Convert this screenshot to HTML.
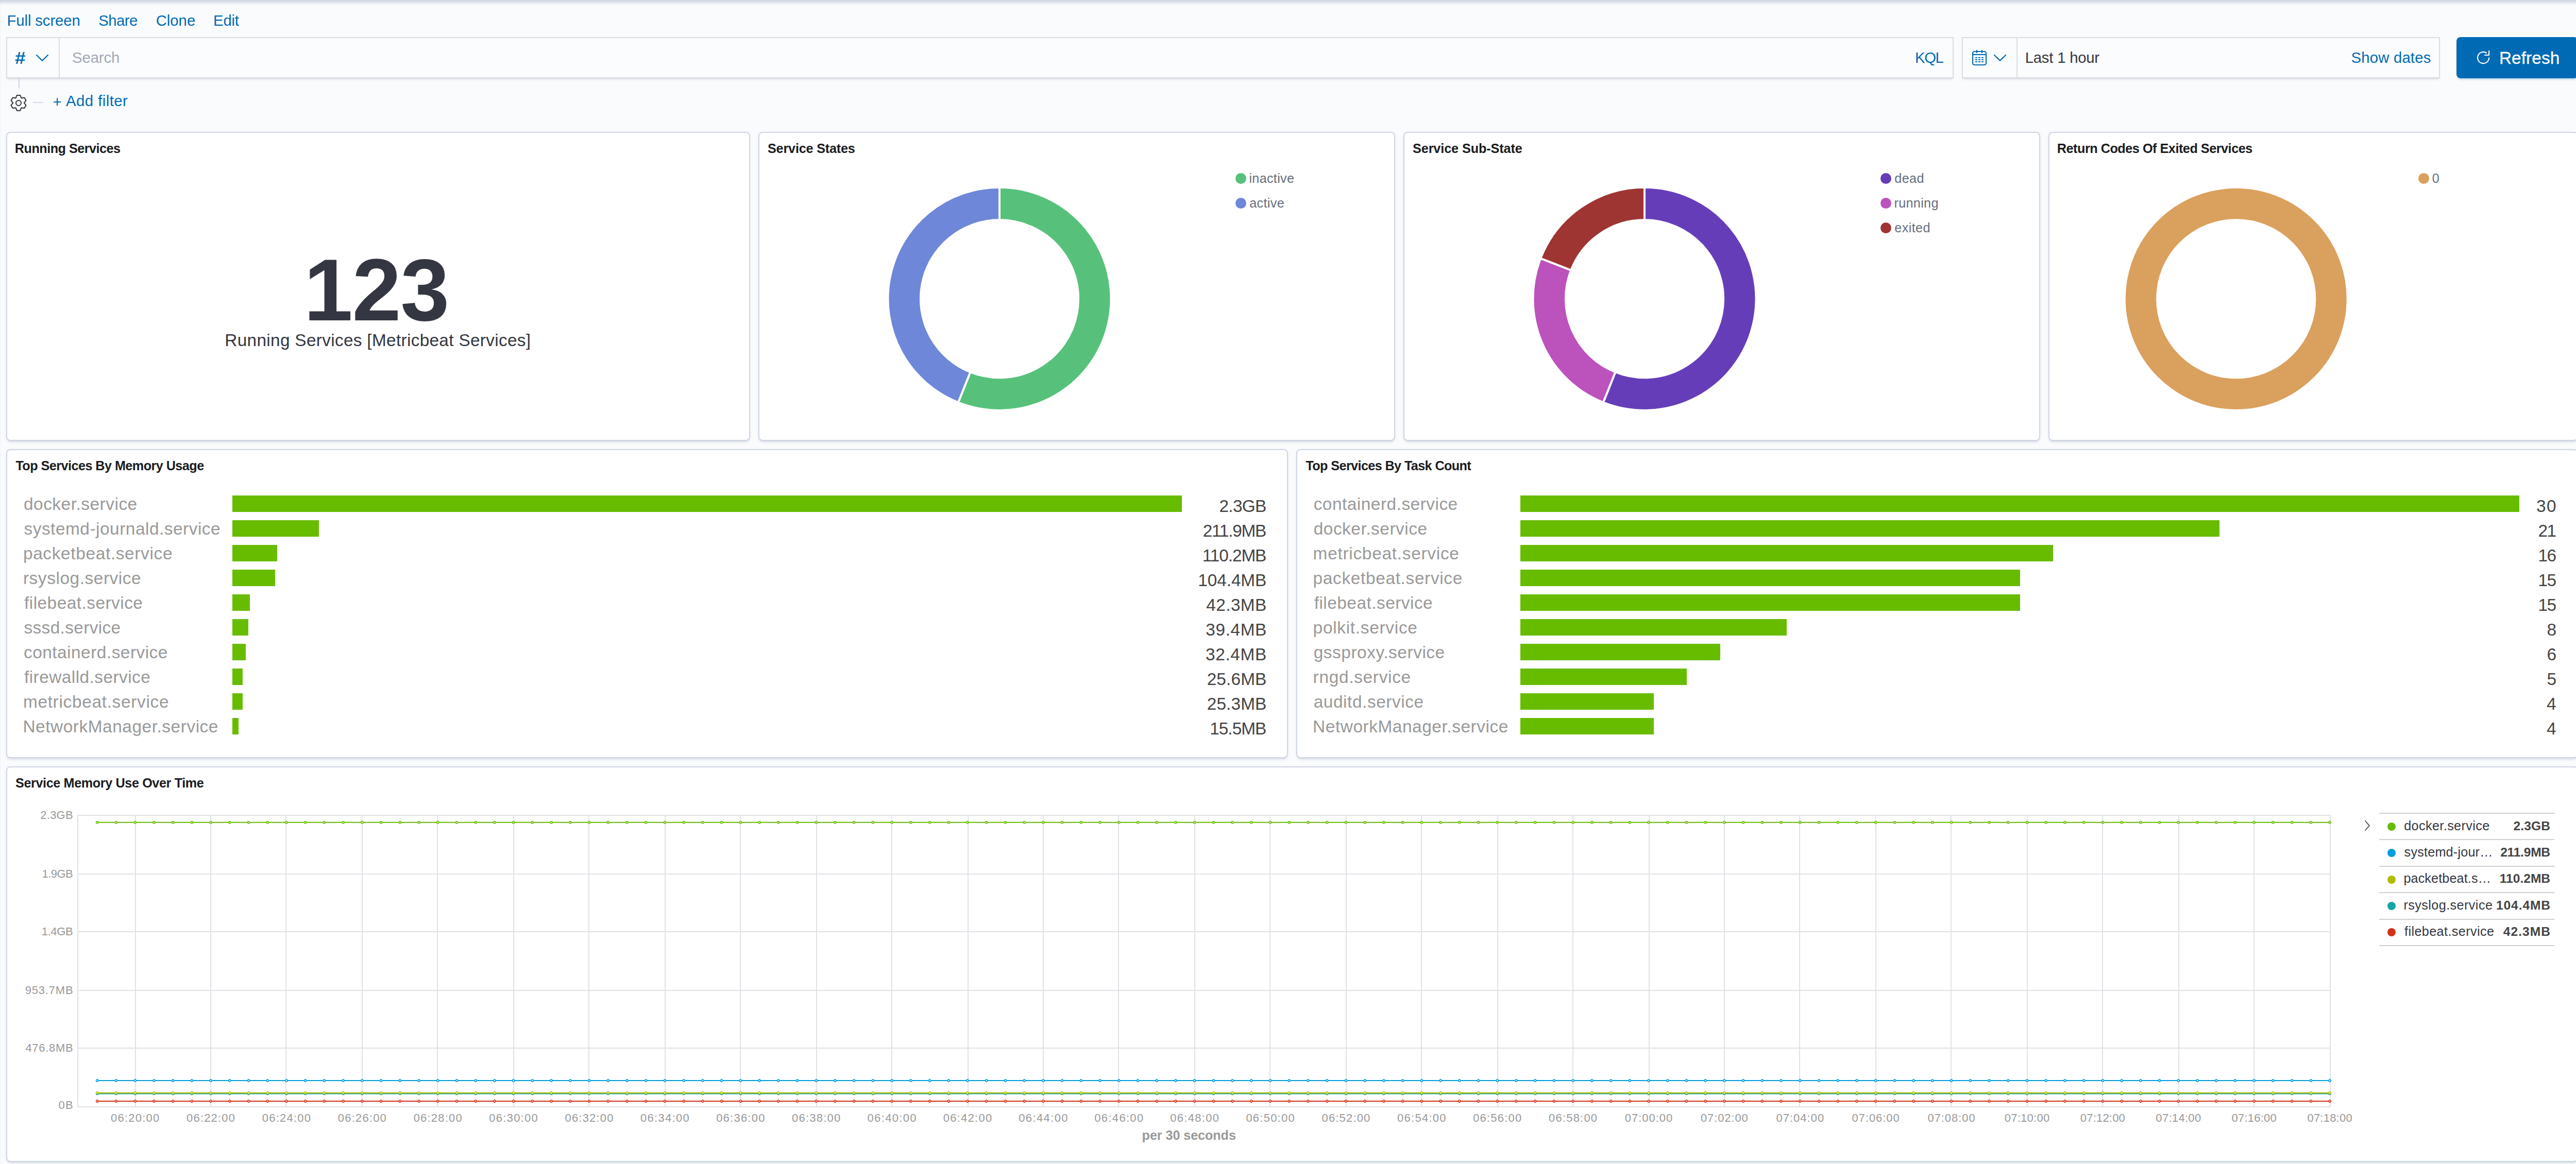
<!DOCTYPE html>
<html lang="en"><head><meta charset="utf-8"><title>Dashboard</title><style>
html,body{margin:0;padding:0}
body{width:5006px;height:2260px;overflow:hidden;background:#fafbfd;position:relative;font-family:"Liberation Sans",sans-serif}
.abs{position:absolute}
.t{position:absolute;white-space:nowrap;line-height:1;display:block}
.med{-webkit-text-stroke:0.3px}
.box{position:absolute;box-sizing:border-box;background:#fbfcfd;border:2px solid #dcdddf;box-shadow:0 2px 2px -1px rgba(152,162,179,.25),0 5px 5px -3px rgba(152,162,179,.25)}
.vline{position:absolute;width:2px;background:#dcdddf}
.panel{position:absolute;box-sizing:border-box;background:#fff;border:2px solid #ced5e3;border-radius:8px;box-shadow:0 4px 4px -2px rgba(152,162,179,.3),0 2px 10px -4px rgba(152,162,179,.3)}
.bar{position:absolute;height:32px;background:#68bc00}
.topshade{position:absolute;left:0;top:0;width:100%;height:10px;background:linear-gradient(#d2d8e4,#d3d9e5 15%,rgba(250,251,253,0))}
</style></head><body>
<div class="abs" style="left:0;top:0;width:2px;height:2260px;background:linear-gradient(90deg,#f3f5f9,#f8f9fc)"></div><div class="topshade"></div>
<div class="box" style="left:12px;top:72px;width:3780px;height:80px"></div>
<div class="vline" style="left:114px;top:74px;height:76px"></div>
<svg class="abs" style="left:68px;top:102px" width="28" height="20" viewBox="0 0 28 20"><polyline points="3,5 14,15.6 25,5" fill="none" stroke="#006bb4" stroke-width="2.2" stroke-linecap="round" stroke-linejoin="round"/></svg>
<div class="box" style="left:3808px;top:72px;width:928px;height:80px"></div>
<div class="vline" style="left:3914px;top:74px;height:76px"></div>
<svg class="abs" style="left:3827px;top:96px" width="30" height="32" viewBox="0 0 30 32" fill="none" stroke="#006bb4" stroke-width="2.1">
<rect x="2" y="4" width="26" height="26" rx="3.5"/>
<line x1="2" y1="10" x2="28" y2="10"/>
<line x1="10" y1="1" x2="10" y2="7"/><line x1="20" y1="1" x2="20" y2="7"/>
<g stroke-width="2" stroke-dasharray="4 2"><line x1="7" y1="16" x2="24" y2="16"/><line x1="7" y1="20" x2="24" y2="20"/><line x1="7" y1="24" x2="24" y2="24"/></g>
</svg>
<svg class="abs" style="left:3868px;top:102px" width="28" height="20" viewBox="0 0 28 20"><polyline points="3,5 14,15.6 25,5" fill="none" stroke="#006bb4" stroke-width="2.2" stroke-linecap="round" stroke-linejoin="round"/></svg>
<div class="abs" style="left:4768px;top:72px;width:236px;height:80px;border-radius:8px;background:#006bb4;box-shadow:0 4px 4px -2px rgba(0,107,180,.3)"></div>
<svg class="abs" style="left:4805px;top:96px" width="32" height="32" viewBox="0 0 32 32" fill="none" stroke="#fff" stroke-width="2.1" stroke-linecap="butt" stroke-linejoin="round">
<path d="M26.19 15.6A11.1 11.1 0 1 1 21.78 7.14"/><path d="M26.1 2.2V11H17.2"/></svg>
<div class="abs" style="left:36px;top:151px;width:2px;height:21px;background:#cdd4e3"></div>
<svg class="abs" style="left:16px;top:180px" width="40" height="40" viewBox="0 0 40 40" fill="none" stroke="#2f323c" stroke-width="2" stroke-linejoin="round"><polygon points="16.76,4.95 23.24,4.95 25.40,10.45 31.24,9.57 34.48,15.18 30.80,19.80 34.48,24.42 31.24,30.03 25.40,29.15 23.24,34.65 16.76,34.65 14.60,29.15 8.76,30.03 5.52,24.42 9.20,19.80 5.52,15.18 8.76,9.57 14.60,10.45"/><circle cx="20" cy="20" r="5"/></svg>
<div class="abs" style="left:64px;top:198px;width:20px;height:2px;background:#d3dae6"></div>
<div class="panel" style="left:12px;top:256px;width:1444px;height:600px"></div>
<div class="panel" style="left:1472px;top:256px;width:1236px;height:600px"></div>
<div class="panel" style="left:2724px;top:256px;width:1236px;height:600px"></div>
<div class="panel" style="left:3976px;top:256px;width:1028px;height:600px"></div>
<div class="panel" style="left:12px;top:872px;width:2488px;height:600px"></div>
<div class="panel" style="left:2516px;top:872px;width:2488px;height:600px"></div>
<div class="panel" style="left:12px;top:1488px;width:4992px;height:768px"></div>
<svg class="abs" style="left:0;top:0" width="5006" height="900" viewBox="0 0 5006 900"><path d="M1940.00 363.70A216.5 216.5 0 1 1 1859.95 781.36L1883.39 722.45A153.1 153.1 0 1 0 1940.00 427.10Z" fill="#57c17b" stroke="#fff" stroke-width="4" stroke-linejoin="miter"/><path d="M1859.95 781.36A216.5 216.5 0 0 1 1940.00 363.70L1940.00 427.10A153.1 153.1 0 0 0 1883.39 722.45Z" fill="#6f87d8" stroke="#fff" stroke-width="4" stroke-linejoin="miter"/></svg>
<svg class="abs" style="left:0;top:0" width="5006" height="900" viewBox="0 0 5006 900"><path d="M3192.00 363.70A216.5 216.5 0 1 1 3111.95 781.36L3135.39 722.45A153.1 153.1 0 1 0 3192.00 427.10Z" fill="#663db8" stroke="#fff" stroke-width="4" stroke-linejoin="miter"/><path d="M3111.95 781.36A216.5 216.5 0 0 1 2990.29 501.56L3049.36 524.59A153.1 153.1 0 0 0 3135.39 722.45Z" fill="#bc52bc" stroke="#fff" stroke-width="4" stroke-linejoin="miter"/><path d="M2990.29 501.56A216.5 216.5 0 0 1 3192.00 363.70L3192.00 427.10A153.1 153.1 0 0 0 3049.36 524.59Z" fill="#9e3533" stroke="#fff" stroke-width="4" stroke-linejoin="miter"/></svg>
<svg class="abs" style="left:0;top:0" width="5006" height="900" viewBox="0 0 5006 900"><circle cx="4340.2" cy="580.2" r="184.8" fill="none" stroke="#daa05d" stroke-width="59.4"/></svg>
<div class="abs" style="left:2397.8px;top:335.8px;width:21px;height:21px;border-radius:50%;background:#57c17b"></div>
<div class="abs" style="left:2397.8px;top:384.1px;width:21px;height:21px;border-radius:50%;background:#6f87d8"></div>
<div class="abs" style="left:3649.7px;top:335.9px;width:21px;height:21px;border-radius:50%;background:#663db8"></div>
<div class="abs" style="left:3649.7px;top:384px;width:21px;height:21px;border-radius:50%;background:#bc52bc"></div>
<div class="abs" style="left:3649.7px;top:431.9px;width:21px;height:21px;border-radius:50%;background:#9e3533"></div>
<div class="abs" style="left:4693.5px;top:335.8px;width:21px;height:21px;border-radius:50%;background:#daa05d"></div>
<div class="bar" style="left:451px;top:962px;width:1842.8px"></div>
<div class="bar" style="left:451px;top:1010px;width:168.0px"></div>
<div class="bar" style="left:451px;top:1058px;width:87.4px"></div>
<div class="bar" style="left:451px;top:1106px;width:82.8px"></div>
<div class="bar" style="left:451px;top:1154px;width:33.5px"></div>
<div class="bar" style="left:451px;top:1202px;width:31.2px"></div>
<div class="bar" style="left:451px;top:1250px;width:25.7px"></div>
<div class="bar" style="left:451px;top:1298px;width:20.3px"></div>
<div class="bar" style="left:451px;top:1346px;width:20.1px"></div>
<div class="bar" style="left:451px;top:1394px;width:12.3px"></div>
<div class="bar" style="left:2951px;top:962px;width:1939.2px"></div>
<div class="bar" style="left:2951px;top:1010px;width:1357.4px"></div>
<div class="bar" style="left:2951px;top:1058px;width:1034.2px"></div>
<div class="bar" style="left:2951px;top:1106px;width:969.6px"></div>
<div class="bar" style="left:2951px;top:1154px;width:969.6px"></div>
<div class="bar" style="left:2951px;top:1202px;width:517.1px"></div>
<div class="bar" style="left:2951px;top:1250px;width:387.8px"></div>
<div class="bar" style="left:2951px;top:1298px;width:323.2px"></div>
<div class="bar" style="left:2951px;top:1346px;width:258.6px"></div>
<div class="bar" style="left:2951px;top:1394px;width:258.6px"></div>
<svg class="abs" style="left:0;top:1488px" width="5006" height="768" viewBox="0 1488 5006 768"><line x1="150" y1="1583.0" x2="4524" y2="1583.0" stroke="#e0e2e7" stroke-width="2"/><line x1="150" y1="1697.0" x2="4524" y2="1697.0" stroke="#e0e2e7" stroke-width="2"/><line x1="150" y1="1809.0" x2="4524" y2="1809.0" stroke="#e0e2e7" stroke-width="2"/><line x1="150" y1="1923.0" x2="4524" y2="1923.0" stroke="#e0e2e7" stroke-width="2"/><line x1="150" y1="2035.0" x2="4524" y2="2035.0" stroke="#e0e2e7" stroke-width="2"/><line x1="150" y1="2149.0" x2="4524" y2="2149.0" stroke="#e0e2e7" stroke-width="2"/><line x1="151" y1="1583.0" x2="151" y2="2149.0" stroke="#e0e2e7" stroke-width="2"/><line x1="263.0" y1="1583.0" x2="263.0" y2="2149.0" stroke="#e0e2e7" stroke-width="2"/><line x1="409.0" y1="1583.0" x2="409.0" y2="2149.0" stroke="#e0e2e7" stroke-width="2"/><line x1="555.0" y1="1583.0" x2="555.0" y2="2149.0" stroke="#e0e2e7" stroke-width="2"/><line x1="703.0" y1="1583.0" x2="703.0" y2="2149.0" stroke="#e0e2e7" stroke-width="2"/><line x1="849.0" y1="1583.0" x2="849.0" y2="2149.0" stroke="#e0e2e7" stroke-width="2"/><line x1="997.0" y1="1583.0" x2="997.0" y2="2149.0" stroke="#e0e2e7" stroke-width="2"/><line x1="1143.0" y1="1583.0" x2="1143.0" y2="2149.0" stroke="#e0e2e7" stroke-width="2"/><line x1="1291.0" y1="1583.0" x2="1291.0" y2="2149.0" stroke="#e0e2e7" stroke-width="2"/><line x1="1437.0" y1="1583.0" x2="1437.0" y2="2149.0" stroke="#e0e2e7" stroke-width="2"/><line x1="1585.0" y1="1583.0" x2="1585.0" y2="2149.0" stroke="#e0e2e7" stroke-width="2"/><line x1="1731.0" y1="1583.0" x2="1731.0" y2="2149.0" stroke="#e0e2e7" stroke-width="2"/><line x1="1879.0" y1="1583.0" x2="1879.0" y2="2149.0" stroke="#e0e2e7" stroke-width="2"/><line x1="2025.0" y1="1583.0" x2="2025.0" y2="2149.0" stroke="#e0e2e7" stroke-width="2"/><line x1="2171.0" y1="1583.0" x2="2171.0" y2="2149.0" stroke="#e0e2e7" stroke-width="2"/><line x1="2319.0" y1="1583.0" x2="2319.0" y2="2149.0" stroke="#e0e2e7" stroke-width="2"/><line x1="2465.0" y1="1583.0" x2="2465.0" y2="2149.0" stroke="#e0e2e7" stroke-width="2"/><line x1="2613.0" y1="1583.0" x2="2613.0" y2="2149.0" stroke="#e0e2e7" stroke-width="2"/><line x1="2759.0" y1="1583.0" x2="2759.0" y2="2149.0" stroke="#e0e2e7" stroke-width="2"/><line x1="2907.0" y1="1583.0" x2="2907.0" y2="2149.0" stroke="#e0e2e7" stroke-width="2"/><line x1="3053.0" y1="1583.0" x2="3053.0" y2="2149.0" stroke="#e0e2e7" stroke-width="2"/><line x1="3201.0" y1="1583.0" x2="3201.0" y2="2149.0" stroke="#e0e2e7" stroke-width="2"/><line x1="3347.0" y1="1583.0" x2="3347.0" y2="2149.0" stroke="#e0e2e7" stroke-width="2"/><line x1="3493.0" y1="1583.0" x2="3493.0" y2="2149.0" stroke="#e0e2e7" stroke-width="2"/><line x1="3641.0" y1="1583.0" x2="3641.0" y2="2149.0" stroke="#e0e2e7" stroke-width="2"/><line x1="3787.0" y1="1583.0" x2="3787.0" y2="2149.0" stroke="#e0e2e7" stroke-width="2"/><line x1="3935.0" y1="1583.0" x2="3935.0" y2="2149.0" stroke="#e0e2e7" stroke-width="2"/><line x1="4081.0" y1="1583.0" x2="4081.0" y2="2149.0" stroke="#e0e2e7" stroke-width="2"/><line x1="4229.0" y1="1583.0" x2="4229.0" y2="2149.0" stroke="#e0e2e7" stroke-width="2"/><line x1="4375.0" y1="1583.0" x2="4375.0" y2="2149.0" stroke="#e0e2e7" stroke-width="2"/><line x1="4523.0" y1="1583.0" x2="4523.0" y2="2149.0" stroke="#e0e2e7" stroke-width="2"/><marker id="m0" markerWidth="8" markerHeight="8" refX="4" refY="4" markerUnits="userSpaceOnUse"><circle cx="4" cy="4" r="2.05" fill="#fff" stroke="#68bc00" stroke-width="1.8"/></marker><polyline points="188.75,1596.7 225.48,1596.7 262.20,1596.7 298.92,1596.7 335.65,1596.7 372.37,1596.7 409.09,1596.7 445.82,1596.7 482.54,1596.7 519.26,1596.7 555.99,1596.7 592.71,1596.7 629.43,1596.7 666.16,1596.7 702.88,1596.7 739.60,1596.7 776.33,1596.7 813.05,1596.7 849.77,1596.7 886.50,1596.7 923.22,1596.7 959.94,1596.7 996.67,1596.7 1033.39,1596.7 1070.11,1596.7 1106.84,1596.7 1143.56,1596.7 1180.28,1596.7 1217.01,1596.7 1253.73,1596.7 1290.45,1596.7 1327.18,1596.7 1363.90,1596.7 1400.62,1596.7 1437.34,1596.7 1474.07,1596.7 1510.79,1596.7 1547.51,1596.7 1584.24,1596.7 1620.96,1596.7 1657.68,1596.7 1694.41,1596.7 1731.13,1596.7 1767.85,1596.7 1804.58,1596.7 1841.30,1596.7 1878.02,1596.7 1914.75,1596.7 1951.47,1596.7 1988.19,1596.7 2024.92,1596.7 2061.64,1596.7 2098.36,1596.7 2135.09,1596.7 2171.81,1596.7 2208.53,1596.7 2245.26,1596.7 2281.98,1596.7 2318.70,1596.7 2355.43,1596.7 2392.15,1596.7 2428.87,1596.7 2465.60,1596.7 2502.32,1596.7 2539.04,1596.7 2575.77,1596.7 2612.49,1596.7 2649.21,1596.7 2685.94,1596.7 2722.66,1596.7 2759.38,1596.7 2796.11,1596.7 2832.83,1596.7 2869.55,1596.7 2906.28,1596.7 2943.00,1596.7 2979.72,1596.7 3016.45,1596.7 3053.17,1596.7 3089.89,1596.7 3126.62,1596.7 3163.34,1596.7 3200.06,1596.7 3236.79,1596.7 3273.51,1596.7 3310.23,1596.7 3346.96,1596.7 3383.68,1596.7 3420.40,1596.7 3457.13,1596.7 3493.85,1596.7 3530.57,1596.7 3567.29,1596.7 3604.02,1596.7 3640.74,1596.7 3677.46,1596.7 3714.19,1596.7 3750.91,1596.7 3787.63,1596.7 3824.36,1596.7 3861.08,1596.7 3897.80,1596.7 3934.53,1596.7 3971.25,1596.7 4007.97,1596.7 4044.70,1596.7 4081.42,1596.7 4118.14,1596.7 4154.87,1596.7 4191.59,1596.7 4228.31,1596.7 4265.04,1596.7 4301.76,1596.7 4338.48,1596.7 4375.21,1596.7 4411.93,1596.7 4448.65,1596.7 4485.38,1596.7 4522.10,1596.7" fill="none" stroke="#68bc00" stroke-width="2" marker-start="url(#m0)" marker-mid="url(#m0)" marker-end="url(#m0)"/><marker id="m1" markerWidth="8" markerHeight="8" refX="4" refY="4" markerUnits="userSpaceOnUse"><circle cx="4" cy="4" r="2.05" fill="#fff" stroke="#009ce0" stroke-width="1.8"/></marker><polyline points="188.75,2098.0 225.48,2098.0 262.20,2098.0 298.92,2098.0 335.65,2098.0 372.37,2098.0 409.09,2098.0 445.82,2098.0 482.54,2098.0 519.26,2098.0 555.99,2098.0 592.71,2098.0 629.43,2098.0 666.16,2098.0 702.88,2098.0 739.60,2098.0 776.33,2098.0 813.05,2098.0 849.77,2098.0 886.50,2098.0 923.22,2098.0 959.94,2098.0 996.67,2098.0 1033.39,2098.0 1070.11,2098.0 1106.84,2098.0 1143.56,2098.0 1180.28,2098.0 1217.01,2098.0 1253.73,2098.0 1290.45,2098.0 1327.18,2098.0 1363.90,2098.0 1400.62,2098.0 1437.34,2098.0 1474.07,2098.0 1510.79,2098.0 1547.51,2098.0 1584.24,2098.0 1620.96,2098.0 1657.68,2098.0 1694.41,2098.0 1731.13,2098.0 1767.85,2098.0 1804.58,2098.0 1841.30,2098.0 1878.02,2098.0 1914.75,2098.0 1951.47,2098.0 1988.19,2098.0 2024.92,2098.0 2061.64,2098.0 2098.36,2098.0 2135.09,2098.0 2171.81,2098.0 2208.53,2098.0 2245.26,2098.0 2281.98,2098.0 2318.70,2098.0 2355.43,2098.0 2392.15,2098.0 2428.87,2098.0 2465.60,2098.0 2502.32,2098.0 2539.04,2098.0 2575.77,2098.0 2612.49,2098.0 2649.21,2098.0 2685.94,2098.0 2722.66,2098.0 2759.38,2098.0 2796.11,2098.0 2832.83,2098.0 2869.55,2098.0 2906.28,2098.0 2943.00,2098.0 2979.72,2098.0 3016.45,2098.0 3053.17,2098.0 3089.89,2098.0 3126.62,2098.0 3163.34,2098.0 3200.06,2098.0 3236.79,2098.0 3273.51,2098.0 3310.23,2098.0 3346.96,2098.0 3383.68,2098.0 3420.40,2098.0 3457.13,2098.0 3493.85,2098.0 3530.57,2098.0 3567.29,2098.0 3604.02,2098.0 3640.74,2098.0 3677.46,2098.0 3714.19,2098.0 3750.91,2098.0 3787.63,2098.0 3824.36,2098.0 3861.08,2098.0 3897.80,2098.0 3934.53,2098.0 3971.25,2098.0 4007.97,2098.0 4044.70,2098.0 4081.42,2098.0 4118.14,2098.0 4154.87,2098.0 4191.59,2098.0 4228.31,2098.0 4265.04,2098.0 4301.76,2098.0 4338.48,2098.0 4375.21,2098.0 4411.93,2098.0 4448.65,2098.0 4485.38,2098.0 4522.10,2098.0" fill="none" stroke="#009ce0" stroke-width="2" marker-start="url(#m1)" marker-mid="url(#m1)" marker-end="url(#m1)"/><marker id="m2" markerWidth="8" markerHeight="8" refX="4" refY="4" markerUnits="userSpaceOnUse"><circle cx="4" cy="4" r="2.05" fill="#fff" stroke="#16a5a5" stroke-width="1.8"/></marker><polyline points="188.75,2123.4 225.48,2123.4 262.20,2123.4 298.92,2123.4 335.65,2123.4 372.37,2123.4 409.09,2123.4 445.82,2123.4 482.54,2123.4 519.26,2123.4 555.99,2123.4 592.71,2123.4 629.43,2123.4 666.16,2123.4 702.88,2123.4 739.60,2123.4 776.33,2123.4 813.05,2123.4 849.77,2123.4 886.50,2123.4 923.22,2123.4 959.94,2123.4 996.67,2123.4 1033.39,2123.4 1070.11,2123.4 1106.84,2123.4 1143.56,2123.4 1180.28,2123.4 1217.01,2123.4 1253.73,2123.4 1290.45,2123.4 1327.18,2123.4 1363.90,2123.4 1400.62,2123.4 1437.34,2123.4 1474.07,2123.4 1510.79,2123.4 1547.51,2123.4 1584.24,2123.4 1620.96,2123.4 1657.68,2123.4 1694.41,2123.4 1731.13,2123.4 1767.85,2123.4 1804.58,2123.4 1841.30,2123.4 1878.02,2123.4 1914.75,2123.4 1951.47,2123.4 1988.19,2123.4 2024.92,2123.4 2061.64,2123.4 2098.36,2123.4 2135.09,2123.4 2171.81,2123.4 2208.53,2123.4 2245.26,2123.4 2281.98,2123.4 2318.70,2123.4 2355.43,2123.4 2392.15,2123.4 2428.87,2123.4 2465.60,2123.4 2502.32,2123.4 2539.04,2123.4 2575.77,2123.4 2612.49,2123.4 2649.21,2123.4 2685.94,2123.4 2722.66,2123.4 2759.38,2123.4 2796.11,2123.4 2832.83,2123.4 2869.55,2123.4 2906.28,2123.4 2943.00,2123.4 2979.72,2123.4 3016.45,2123.4 3053.17,2123.4 3089.89,2123.4 3126.62,2123.4 3163.34,2123.4 3200.06,2123.4 3236.79,2123.4 3273.51,2123.4 3310.23,2123.4 3346.96,2123.4 3383.68,2123.4 3420.40,2123.4 3457.13,2123.4 3493.85,2123.4 3530.57,2123.4 3567.29,2123.4 3604.02,2123.4 3640.74,2123.4 3677.46,2123.4 3714.19,2123.4 3750.91,2123.4 3787.63,2123.4 3824.36,2123.4 3861.08,2123.4 3897.80,2123.4 3934.53,2123.4 3971.25,2123.4 4007.97,2123.4 4044.70,2123.4 4081.42,2123.4 4118.14,2123.4 4154.87,2123.4 4191.59,2123.4 4228.31,2123.4 4265.04,2123.4 4301.76,2123.4 4338.48,2123.4 4375.21,2123.4 4411.93,2123.4 4448.65,2123.4 4485.38,2123.4 4522.10,2123.4" fill="none" stroke="#16a5a5" stroke-width="2" marker-start="url(#m2)" marker-mid="url(#m2)" marker-end="url(#m2)"/><marker id="m3" markerWidth="8" markerHeight="8" refX="4" refY="4" markerUnits="userSpaceOnUse"><circle cx="4" cy="4" r="2.05" fill="#fff" stroke="#b0bc00" stroke-width="1.8"/></marker><polyline points="188.75,2122.0 225.48,2122.0 262.20,2122.0 298.92,2122.0 335.65,2122.0 372.37,2122.0 409.09,2122.0 445.82,2122.0 482.54,2122.0 519.26,2122.0 555.99,2122.0 592.71,2122.0 629.43,2122.0 666.16,2122.0 702.88,2122.0 739.60,2122.0 776.33,2122.0 813.05,2122.0 849.77,2122.0 886.50,2122.0 923.22,2122.0 959.94,2122.0 996.67,2122.0 1033.39,2122.0 1070.11,2122.0 1106.84,2122.0 1143.56,2122.0 1180.28,2122.0 1217.01,2122.0 1253.73,2122.0 1290.45,2122.0 1327.18,2122.0 1363.90,2122.0 1400.62,2122.0 1437.34,2122.0 1474.07,2122.0 1510.79,2122.0 1547.51,2122.0 1584.24,2122.0 1620.96,2122.0 1657.68,2122.0 1694.41,2122.0 1731.13,2122.0 1767.85,2122.0 1804.58,2122.0 1841.30,2122.0 1878.02,2122.0 1914.75,2122.0 1951.47,2122.0 1988.19,2122.0 2024.92,2122.0 2061.64,2122.0 2098.36,2122.0 2135.09,2122.0 2171.81,2122.0 2208.53,2122.0 2245.26,2122.0 2281.98,2122.0 2318.70,2122.0 2355.43,2122.0 2392.15,2122.0 2428.87,2122.0 2465.60,2122.0 2502.32,2122.0 2539.04,2122.0 2575.77,2122.0 2612.49,2122.0 2649.21,2122.0 2685.94,2122.0 2722.66,2122.0 2759.38,2122.0 2796.11,2122.0 2832.83,2122.0 2869.55,2122.0 2906.28,2122.0 2943.00,2122.0 2979.72,2122.0 3016.45,2122.0 3053.17,2122.0 3089.89,2122.0 3126.62,2122.0 3163.34,2122.0 3200.06,2122.0 3236.79,2122.0 3273.51,2122.0 3310.23,2122.0 3346.96,2122.0 3383.68,2122.0 3420.40,2122.0 3457.13,2122.0 3493.85,2122.0 3530.57,2122.0 3567.29,2122.0 3604.02,2122.0 3640.74,2122.0 3677.46,2122.0 3714.19,2122.0 3750.91,2122.0 3787.63,2122.0 3824.36,2122.0 3861.08,2122.0 3897.80,2122.0 3934.53,2122.0 3971.25,2122.0 4007.97,2122.0 4044.70,2122.0 4081.42,2122.0 4118.14,2122.0 4154.87,2122.0 4191.59,2122.0 4228.31,2122.0 4265.04,2122.0 4301.76,2122.0 4338.48,2122.0 4375.21,2122.0 4411.93,2122.0 4448.65,2122.0 4485.38,2122.0 4522.10,2122.0" fill="none" stroke="#b0bc00" stroke-width="2" marker-start="url(#m3)" marker-mid="url(#m3)" marker-end="url(#m3)"/><marker id="m4" markerWidth="8" markerHeight="8" refX="4" refY="4" markerUnits="userSpaceOnUse"><circle cx="4" cy="4" r="2.05" fill="#fff" stroke="#d33115" stroke-width="1.8"/></marker><polyline points="188.75,2138.0 225.48,2138.0 262.20,2138.0 298.92,2138.0 335.65,2138.0 372.37,2138.0 409.09,2138.0 445.82,2138.0 482.54,2138.0 519.26,2138.0 555.99,2138.0 592.71,2138.0 629.43,2138.0 666.16,2138.0 702.88,2138.0 739.60,2138.0 776.33,2138.0 813.05,2138.0 849.77,2138.0 886.50,2138.0 923.22,2138.0 959.94,2138.0 996.67,2138.0 1033.39,2138.0 1070.11,2138.0 1106.84,2138.0 1143.56,2138.0 1180.28,2138.0 1217.01,2138.0 1253.73,2138.0 1290.45,2138.0 1327.18,2138.0 1363.90,2138.0 1400.62,2138.0 1437.34,2138.0 1474.07,2138.0 1510.79,2138.0 1547.51,2138.0 1584.24,2138.0 1620.96,2138.0 1657.68,2138.0 1694.41,2138.0 1731.13,2138.0 1767.85,2138.0 1804.58,2138.0 1841.30,2138.0 1878.02,2138.0 1914.75,2138.0 1951.47,2138.0 1988.19,2138.0 2024.92,2138.0 2061.64,2138.0 2098.36,2138.0 2135.09,2138.0 2171.81,2138.0 2208.53,2138.0 2245.26,2138.0 2281.98,2138.0 2318.70,2138.0 2355.43,2138.0 2392.15,2138.0 2428.87,2138.0 2465.60,2138.0 2502.32,2138.0 2539.04,2138.0 2575.77,2138.0 2612.49,2138.0 2649.21,2138.0 2685.94,2138.0 2722.66,2138.0 2759.38,2138.0 2796.11,2138.0 2832.83,2138.0 2869.55,2138.0 2906.28,2138.0 2943.00,2138.0 2979.72,2138.0 3016.45,2138.0 3053.17,2138.0 3089.89,2138.0 3126.62,2138.0 3163.34,2138.0 3200.06,2138.0 3236.79,2138.0 3273.51,2138.0 3310.23,2138.0 3346.96,2138.0 3383.68,2138.0 3420.40,2138.0 3457.13,2138.0 3493.85,2138.0 3530.57,2138.0 3567.29,2138.0 3604.02,2138.0 3640.74,2138.0 3677.46,2138.0 3714.19,2138.0 3750.91,2138.0 3787.63,2138.0 3824.36,2138.0 3861.08,2138.0 3897.80,2138.0 3934.53,2138.0 3971.25,2138.0 4007.97,2138.0 4044.70,2138.0 4081.42,2138.0 4118.14,2138.0 4154.87,2138.0 4191.59,2138.0 4228.31,2138.0 4265.04,2138.0 4301.76,2138.0 4338.48,2138.0 4375.21,2138.0 4411.93,2138.0 4448.65,2138.0 4485.38,2138.0 4522.10,2138.0" fill="none" stroke="#d33115" stroke-width="2" marker-start="url(#m4)" marker-mid="url(#m4)" marker-end="url(#m4)"/></svg>
<svg class="abs" style="left:4586px;top:1590px" width="18" height="26" viewBox="0 0 18 26"><polyline points="5,4 13,13 5,22" fill="none" stroke="#444" stroke-width="1.8" stroke-linecap="round" stroke-linejoin="round"/></svg>
<div class="abs" style="left:4618px;top:1578.0px;width:340px;height:2px;background:#cfcfcf"></div>
<div class="abs" style="left:4618px;top:1629.4px;width:340px;height:2px;background:#cfcfcf"></div>
<div class="abs" style="left:4618px;top:1680.8px;width:340px;height:2px;background:#cfcfcf"></div>
<div class="abs" style="left:4618px;top:1732.2px;width:340px;height:2px;background:#cfcfcf"></div>
<div class="abs" style="left:4618px;top:1783.6px;width:340px;height:2px;background:#cfcfcf"></div>
<div class="abs" style="left:4618px;top:1835.0px;width:340px;height:2px;background:#cfcfcf"></div>
<div class="abs" style="left:4634px;top:1596.8px;width:16px;height:16px;border-radius:50%;background:#68bc00"></div>
<div class="abs" style="left:4634px;top:1648.2px;width:16px;height:16px;border-radius:50%;background:#009ce0"></div>
<div class="abs" style="left:4634px;top:1699.6px;width:16px;height:16px;border-radius:50%;background:#b0bc00"></div>
<div class="abs" style="left:4634px;top:1751.0px;width:16px;height:16px;border-radius:50%;background:#16a5a5"></div>
<div class="abs" style="left:4634px;top:1802.4px;width:16px;height:16px;border-radius:50%;background:#d33115"></div>
<span class="t" style="left:13.51px;top:25px;font-size:29.3px;color:#006bb4;letter-spacing:-0.106px;">Full screen</span>
<span class="t" style="left:191.28px;top:25px;font-size:29.3px;color:#006bb4;letter-spacing:-0.521px;">Share</span>
<span class="t" style="left:302.63px;top:25px;font-size:29.3px;color:#006bb4;">Clone</span>
<span class="t" style="left:414.11px;top:25px;font-size:29.3px;color:#006bb4;letter-spacing:-0.200px;">Edit</span>
<span class="t" style="left:29.48px;top:96px;font-size:33px;color:#006bb4;font-weight:700;transform:scaleX(1.12);transform-origin:0 0;">#</span>
<span class="t" style="left:140.08px;top:97px;font-size:29.3px;color:#a2a9b5;letter-spacing:-0.135px;">Search</span>
<span class="t" style="left:3717.11px;top:97px;font-size:29.3px;color:#006bb4;letter-spacing:-1.465px;">KQL</span>
<span class="t" style="left:3930.71px;top:97px;font-size:29.3px;color:#343741;letter-spacing:-0.217px;">Last 1 hour</span>
<span class="t" style="left:4563.58px;top:97px;font-size:29.3px;color:#006bb4;letter-spacing:0.180px;">Show dates</span>
<span class="t med" style="left:4850.89px;top:96px;font-size:33.4px;color:#fff;letter-spacing:0.089px;">Refresh</span>
<span class="t" style="left:102.53px;top:183px;font-size:29.3px;color:#006bb4;">+</span>
<span class="t" style="left:128.10px;top:181px;font-size:29.3px;color:#006bb4;letter-spacing:0.457px;">Add filter</span>
<span class="t" style="left:28.82px;top:276px;font-size:25.2px;color:#1a1c21;font-weight:700;letter-spacing:-0.504px;">Running Services</span>
<span class="t" style="left:1490.01px;top:276px;font-size:25.2px;color:#1a1c21;font-weight:700;letter-spacing:-0.185px;">Service States</span>
<span class="t" style="left:2742.01px;top:276px;font-size:25.2px;color:#1a1c21;font-weight:700;letter-spacing:-0.085px;">Service Sub-State</span>
<span class="t" style="left:3992.82px;top:276px;font-size:25.2px;color:#1a1c21;font-weight:700;letter-spacing:-0.464px;">Return Codes Of Exited Services</span>
<span class="t" style="left:30.40px;top:892px;font-size:25.2px;color:#1a1c21;font-weight:700;letter-spacing:-0.539px;">Top Services By Memory Usage</span>
<span class="t" style="left:2534.40px;top:892px;font-size:25.2px;color:#1a1c21;font-weight:700;letter-spacing:-0.601px;">Top Services By Task Count</span>
<span class="t" style="left:30.01px;top:1508px;font-size:25.2px;color:#1a1c21;font-weight:700;letter-spacing:-0.382px;">Service Memory Use Over Time</span>
<span class="t" style="left:589.81px;top:477px;font-size:171px;color:#343741;font-weight:700;letter-spacing:-1.430px;">123</span>
<span class="t" style="left:436.29px;top:644px;font-size:33.4px;color:#343741;letter-spacing:0.300px;">Running Services [Metricbeat Services]</span>
<span class="t" style="left:2424.42px;top:334px;font-size:25.2px;color:#666e7d;letter-spacing:0.308px;">inactive</span>
<span class="t" style="left:2425.21px;top:382px;font-size:25.2px;color:#666e7d;letter-spacing:0.336px;">active</span>
<span class="t" style="left:3677.21px;top:334px;font-size:25.2px;color:#666e7d;letter-spacing:0.414px;">dead</span>
<span class="t" style="left:3676.42px;top:382px;font-size:25.2px;color:#666e7d;letter-spacing:0.337px;">running</span>
<span class="t" style="left:3677.21px;top:430px;font-size:25.2px;color:#666e7d;letter-spacing:0.431px;">exited</span>
<span class="t" style="left:4720.71px;top:334px;font-size:25.2px;color:#666e7d;">0</span>
<span class="t" style="left:45.96px;top:962px;font-size:33.4px;color:#999999;letter-spacing:0.524px;">docker.service</span>
<span class="t" style="left:2366.42px;top:966px;font-size:33.4px;color:#444444;letter-spacing:-0.676px;">2.3GB</span>
<span class="t" style="left:46.48px;top:1010px;font-size:33.4px;color:#999999;letter-spacing:0.517px;">systemd-journald.service</span>
<span class="t" style="left:2334.64px;top:1014px;font-size:33.4px;color:#444444;letter-spacing:-1.240px;">211.9MB</span>
<span class="t" style="left:44.91px;top:1058px;font-size:33.4px;color:#999999;letter-spacing:0.656px;">packetbeat.service</span>
<span class="t" style="left:2333.87px;top:1062px;font-size:33.4px;color:#444444;letter-spacing:-1.111px;">110.2MB</span>
<span class="t" style="left:44.91px;top:1106px;font-size:33.4px;color:#999999;letter-spacing:0.570px;">rsyslog.service</span>
<span class="t" style="left:2325.32px;top:1110px;font-size:33.4px;color:#444444;letter-spacing:-0.100px;">104.4MB</span>
<span class="t" style="left:47.00px;top:1154px;font-size:33.4px;color:#999999;letter-spacing:0.479px;">filebeat.service</span>
<span class="t" style="left:2341.26px;top:1158px;font-size:33.4px;color:#444444;letter-spacing:0.407px;">42.3MB</span>
<span class="t" style="left:46.48px;top:1202px;font-size:33.4px;color:#999999;letter-spacing:0.366px;">sssd.service</span>
<span class="t" style="left:2340.36px;top:1206px;font-size:33.4px;color:#444444;letter-spacing:0.587px;">39.4MB</span>
<span class="t" style="left:45.96px;top:1250px;font-size:33.4px;color:#999999;letter-spacing:0.497px;">containerd.service</span>
<span class="t" style="left:2339.88px;top:1254px;font-size:33.4px;color:#444444;letter-spacing:0.684px;">32.4MB</span>
<span class="t" style="left:47.00px;top:1298px;font-size:33.4px;color:#999999;letter-spacing:0.454px;">firewalld.service</span>
<span class="t" style="left:2342.67px;top:1302px;font-size:33.4px;color:#444444;letter-spacing:0.126px;">25.6MB</span>
<span class="t" style="left:44.91px;top:1346px;font-size:33.4px;color:#999999;letter-spacing:0.685px;">metricbeat.service</span>
<span class="t" style="left:2342.79px;top:1350px;font-size:33.4px;color:#444444;letter-spacing:0.101px;">25.3MB</span>
<span class="t" style="left:44.39px;top:1394px;font-size:33.4px;color:#999999;letter-spacing:0.553px;">NetworkManager.service</span>
<span class="t" style="left:2348.18px;top:1398px;font-size:33.4px;color:#444444;letter-spacing:-0.976px;">15.5MB</span>
<span class="t" style="left:2549.66px;top:962px;font-size:33.4px;color:#999999;letter-spacing:0.503px;">containerd.service</span>
<span class="t" style="left:4922.89px;top:966px;font-size:33.4px;color:#444444;letter-spacing:1.490px;">30</span>
<span class="t" style="left:2549.66px;top:1010px;font-size:33.4px;color:#999999;letter-spacing:0.540px;">docker.service</span>
<span class="t" style="left:4926.57px;top:1014px;font-size:33.4px;color:#444444;letter-spacing:-1.670px;">21</span>
<span class="t" style="left:2548.61px;top:1058px;font-size:33.4px;color:#999999;letter-spacing:0.726px;">metricbeat.service</span>
<span class="t" style="left:4926.57px;top:1062px;font-size:33.4px;color:#444444;letter-spacing:-1.670px;">16</span>
<span class="t" style="left:2548.61px;top:1106px;font-size:33.4px;color:#999999;letter-spacing:0.662px;">packetbeat.service</span>
<span class="t" style="left:4926.57px;top:1110px;font-size:33.4px;color:#444444;letter-spacing:-1.670px;">15</span>
<span class="t" style="left:2550.70px;top:1154px;font-size:33.4px;color:#999999;letter-spacing:0.485px;">filebeat.service</span>
<span class="t" style="left:4926.57px;top:1158px;font-size:33.4px;color:#444444;letter-spacing:-1.670px;">15</span>
<span class="t" style="left:2548.61px;top:1202px;font-size:33.4px;color:#999999;letter-spacing:0.715px;">polkit.service</span>
<span class="t" style="left:4943.48px;top:1206px;font-size:33.4px;color:#444444;">8</span>
<span class="t" style="left:2549.66px;top:1250px;font-size:33.4px;color:#999999;letter-spacing:0.557px;">gssproxy.service</span>
<span class="t" style="left:4943.48px;top:1254px;font-size:33.4px;color:#444444;">6</span>
<span class="t" style="left:2548.61px;top:1298px;font-size:33.4px;color:#999999;letter-spacing:0.693px;">rngd.service</span>
<span class="t" style="left:4943.48px;top:1302px;font-size:33.4px;color:#444444;">5</span>
<span class="t" style="left:2549.66px;top:1346px;font-size:33.4px;color:#999999;letter-spacing:0.571px;">auditd.service</span>
<span class="t" style="left:4942.96px;top:1350px;font-size:33.4px;color:#444444;">4</span>
<span class="t" style="left:2548.09px;top:1394px;font-size:33.4px;color:#999999;letter-spacing:0.558px;">NetworkManager.service</span>
<span class="t" style="left:4942.96px;top:1398px;font-size:33.4px;color:#444444;">4</span>
<span class="t" style="left:78.37px;top:1572px;font-size:22px;color:#999999;letter-spacing:0.221px;">2.3GB</span>
<span class="t" style="left:81.52px;top:1686px;font-size:22px;color:#999999;letter-spacing:-0.568px;">1.9GB</span>
<span class="t" style="left:80.82px;top:1798px;font-size:22px;color:#999999;letter-spacing:-0.393px;">1.4GB</span>
<span class="t" style="left:48.77px;top:1912px;font-size:22px;color:#999999;letter-spacing:0.800px;">953.7MB</span>
<span class="t" style="left:49.46px;top:2024px;font-size:22px;color:#999999;letter-spacing:0.686px;">476.8MB</span>
<span class="t" style="left:113.61px;top:2135px;font-size:22px;color:#999999;letter-spacing:1.100px;">0B</span>
<span class="t" style="left:214.98px;top:2160px;font-size:22px;color:#999999;letter-spacing:1.237px;">06:20:00</span>
<span class="t" style="left:362.11px;top:2160px;font-size:22px;color:#999999;letter-spacing:1.171px;">06:22:00</span>
<span class="t" style="left:508.77px;top:2160px;font-size:22px;color:#999999;letter-spacing:1.235px;">06:24:00</span>
<span class="t" style="left:655.78px;top:2160px;font-size:22px;color:#999999;letter-spacing:1.203px;">06:26:00</span>
<span class="t" style="left:802.69px;top:2160px;font-size:22px;color:#999999;letter-spacing:1.199px;">06:28:00</span>
<span class="t" style="left:949.36px;top:2160px;font-size:22px;color:#999999;letter-spacing:1.261px;">06:30:00</span>
<span class="t" style="left:1096.49px;top:2160px;font-size:22px;color:#999999;letter-spacing:1.195px;">06:32:00</span>
<span class="t" style="left:1242.98px;top:2160px;font-size:22px;color:#999999;letter-spacing:1.309px;">06:34:00</span>
<span class="t" style="left:1390.16px;top:2160px;font-size:22px;color:#999999;letter-spacing:1.228px;">06:36:00</span>
<span class="t" style="left:1537.07px;top:2160px;font-size:22px;color:#999999;letter-spacing:1.223px;">06:38:00</span>
<span class="t" style="left:1683.52px;top:2160px;font-size:22px;color:#999999;letter-spacing:1.350px;">06:40:00</span>
<span class="t" style="left:1830.64px;top:2160px;font-size:22px;color:#999999;letter-spacing:1.284px;">06:42:00</span>
<span class="t" style="left:1977.14px;top:2160px;font-size:22px;color:#999999;letter-spacing:1.398px;">06:44:00</span>
<span class="t" style="left:2124.31px;top:2160px;font-size:22px;color:#999999;letter-spacing:1.317px;">06:46:00</span>
<span class="t" style="left:2271.22px;top:2160px;font-size:22px;color:#999999;letter-spacing:1.312px;">06:48:00</span>
<span class="t" style="left:2418.40px;top:2160px;font-size:22px;color:#999999;letter-spacing:1.231px;">06:50:00</span>
<span class="t" style="left:2565.52px;top:2160px;font-size:22px;color:#999999;letter-spacing:1.165px;">06:52:00</span>
<span class="t" style="left:2712.02px;top:2160px;font-size:22px;color:#999999;letter-spacing:1.278px;">06:54:00</span>
<span class="t" style="left:2859.20px;top:2160px;font-size:22px;color:#999999;letter-spacing:1.197px;">06:56:00</span>
<span class="t" style="left:3006.11px;top:2160px;font-size:22px;color:#999999;letter-spacing:1.192px;">06:58:00</span>
<span class="t" style="left:3153.80px;top:2160px;font-size:22px;color:#999999;letter-spacing:0.965px;">07:00:00</span>
<span class="t" style="left:3300.92px;top:2160px;font-size:22px;color:#999999;letter-spacing:0.899px;">07:02:00</span>
<span class="t" style="left:3447.42px;top:2160px;font-size:22px;color:#999999;letter-spacing:1.013px;">07:04:00</span>
<span class="t" style="left:3594.59px;top:2160px;font-size:22px;color:#999999;letter-spacing:0.932px;">07:06:00</span>
<span class="t" style="left:3741.50px;top:2160px;font-size:22px;color:#999999;letter-spacing:0.927px;">07:08:00</span>
<span class="t" style="left:3890.73px;top:2160px;font-size:22px;color:#999999;letter-spacing:0.261px;">07:10:00</span>
<span class="t" style="left:4037.85px;top:2160px;font-size:22px;color:#999999;letter-spacing:0.195px;">07:12:00</span>
<span class="t" style="left:4184.35px;top:2160px;font-size:22px;color:#999999;letter-spacing:0.308px;">07:14:00</span>
<span class="t" style="left:4331.52px;top:2160px;font-size:22px;color:#999999;letter-spacing:0.227px;">07:16:00</span>
<span class="t" style="left:4478.43px;top:2160px;font-size:22px;color:#999999;letter-spacing:0.223px;">07:18:00</span>
<span class="t" style="left:2216.62px;top:2192px;font-size:25.2px;color:#999999;font-weight:700;letter-spacing:-0.084px;">per 30 seconds</span>
<span class="t" style="left:4666.21px;top:1591px;font-size:25.2px;color:#343741;letter-spacing:0.388px;">docker.service</span>
<span class="t" style="left:4878.57px;top:1592px;font-size:24.6px;color:#444;font-weight:700;letter-spacing:0.121px;">2.3GB</span>
<span class="t" style="left:4666.61px;top:1642px;font-size:25.2px;color:#343741;letter-spacing:0.201px;">systemd-jour…</span>
<span class="t" style="left:4853.19px;top:1643px;font-size:24.6px;color:#444;font-weight:700;letter-spacing:-0.249px;">211.9MB</span>
<span class="t" style="left:4665.42px;top:1693px;font-size:25.2px;color:#343741;letter-spacing:0.119px;">packetbeat.s…</span>
<span class="t" style="left:4851.84px;top:1694px;font-size:24.6px;color:#444;font-weight:700;letter-spacing:-0.025px;">110.2MB</span>
<span class="t" style="left:4665.42px;top:1745px;font-size:25.2px;color:#343741;letter-spacing:0.425px;">rsyslog.service</span>
<span class="t" style="left:4844.95px;top:1746px;font-size:24.6px;color:#444;font-weight:700;letter-spacing:0.897px;">104.4MB</span>
<span class="t" style="left:4667.00px;top:1796px;font-size:25.2px;color:#343741;letter-spacing:0.396px;">filebeat.service</span>
<span class="t" style="left:4858.76px;top:1797px;font-size:24.6px;color:#444;font-weight:700;letter-spacing:1.051px;">42.3MB</span>
</body></html>
